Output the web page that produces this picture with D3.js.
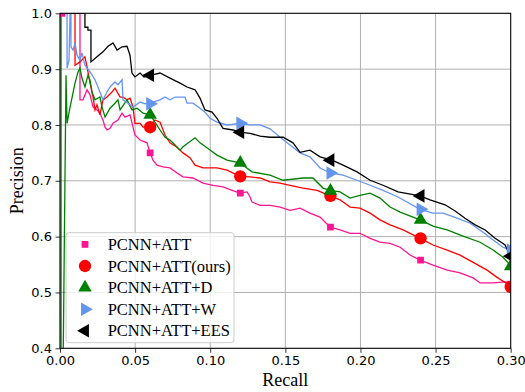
<!DOCTYPE html>
<html>
<head>
<meta charset="utf-8">
<script src="https://cdn.jsdelivr.net/npm/d3@7"></script>
<style>
  body { margin: 0; background: #fff; }
</style>
</head>
<body>
<div id="chart-container"></div>
<script>
// axis ticks
const recallTicks = [0, 0.05, 0.10, 0.15, 0.20, 0.25, 0.30];
const precisionTicks = [0.4, 0.5, 0.6, 0.7, 0.8, 0.9, 1.0];

// legend labels
const seriesNames = ['PCNN+ATT', 'PCNN+ATT(ours)', 'PCNN+ATT+D', 'PCNN+ATT+W', 'PCNN+ATT+EES'];

// [recall, precision]
const pcnnAtt = [[0,1.0],[0.0133,1.0],[0.0133,0.845],[0.0153,0.845],[0.018,0.863],[0.02,0.854],[0.022,0.832],[0.0246,0.827],[0.0266,0.821],[0.0286,0.809],[0.03,0.796],[0.0313,0.791],[0.0333,0.794],[0.0353,0.803],[0.0386,0.809],[0.0413,0.821],[0.0433,0.814],[0.0466,0.818],[0.0486,0.796],[0.0499,0.782],[0.0533,0.773],[0.0579,0.768],[0.06,0.75],[0.0619,0.737],[0.0646,0.728],[0.0686,0.725],[0.0732,0.723],[0.0779,0.714],[0.0819,0.707],[0.0885,0.705],[0.0952,0.696],[0.1019,0.692],[0.1085,0.689],[0.1145,0.683],[0.1198,0.678],[0.1245,0.68],[0.1265,0.671],[0.1278,0.662],[0.1332,0.656],[0.1398,0.656],[0.1465,0.653],[0.1531,0.647],[0.1598,0.651],[0.1664,0.642],[0.1731,0.635],[0.1798,0.617],[0.1864,0.612],[0.1931,0.606],[0.1997,0.606],[0.2064,0.597],[0.213,0.59],[0.2197,0.588],[0.2264,0.581],[0.233,0.567],[0.2397,0.558],[0.2483,0.549],[0.2577,0.54],[0.2663,0.535],[0.275,0.526],[0.2796,0.517],[0.2883,0.517],[0.2963,0.519],[0.2996,0.517]];

const pcnnAttOurs = [[0,1.0],[0.01,1.0],[0.01,0.907],[0.0133,0.913],[0.0166,0.922],[0.018,0.904],[0.02,0.875],[0.022,0.85],[0.0233,0.827],[0.0246,0.836],[0.0266,0.818],[0.0286,0.845],[0.0313,0.85],[0.0346,0.859],[0.0366,0.866],[0.04,0.85],[0.0419,0.85],[0.0446,0.845],[0.0466,0.848],[0.0486,0.832],[0.0499,0.803],[0.0533,0.803],[0.0553,0.796],[0.06,0.796],[0.0632,0.809],[0.0666,0.805],[0.0699,0.782],[0.0732,0.768],[0.0779,0.76],[0.0819,0.75],[0.0866,0.741],[0.0899,0.728],[0.0952,0.723],[0.1045,0.723],[0.1112,0.719],[0.1198,0.708],[0.1265,0.707],[0.1332,0.705],[0.1398,0.698],[0.1465,0.696],[0.1531,0.692],[0.1618,0.687],[0.1711,0.683],[0.1798,0.673],[0.1864,0.666],[0.1931,0.653],[0.1997,0.651],[0.2064,0.642],[0.213,0.63],[0.2197,0.621],[0.2284,0.612],[0.2397,0.597],[0.2483,0.585],[0.2577,0.576],[0.2663,0.567],[0.275,0.554],[0.2843,0.54],[0.2909,0.527],[0.2963,0.518],[0.2996,0.511]];

const pcnnAttD = [[0,1.0],[0.0007,1.0],[0.0007,0.0],[0.004,0.889],[0.0047,0.803],[0.0067,0.832],[0.01,0.875],[0.012,0.895],[0.0133,0.902],[0.0146,0.884],[0.0166,0.868],[0.0186,0.889],[0.02,0.88],[0.0213,0.859],[0.0233,0.845],[0.0266,0.85],[0.028,0.832],[0.03,0.814],[0.0333,0.83],[0.0366,0.839],[0.0386,0.845],[0.04,0.827],[0.0446,0.845],[0.0479,0.827],[0.0513,0.83],[0.0553,0.821],[0.06,0.818],[0.0666,0.791],[0.0699,0.778],[0.0732,0.773],[0.0766,0.764],[0.0799,0.755],[0.0819,0.761],[0.0899,0.777],[0.0932,0.768],[0.0999,0.755],[0.1045,0.746],[0.1112,0.737],[0.1198,0.732],[0.1278,0.716],[0.1398,0.71],[0.1485,0.701],[0.1618,0.705],[0.1684,0.705],[0.1751,0.687],[0.1798,0.683],[0.1864,0.68],[0.1931,0.669],[0.1997,0.674],[0.2064,0.678],[0.213,0.669],[0.2197,0.653],[0.2264,0.644],[0.2397,0.63],[0.2483,0.619],[0.2577,0.612],[0.2683,0.601],[0.2796,0.59],[0.2883,0.576],[0.2949,0.563],[0.2983,0.553],[0.2996,0.547]];

const pcnnAttW = [[0,1.0],[0.0047,1.0],[0.0047,0.902],[0.006,0.916],[0.0067,1.0],[0.0073,1.0],[0.0073,0.94],[0.0087,0.934],[0.01,0.947],[0.0113,0.925],[0.0133,0.916],[0.0146,0.929],[0.0166,0.907],[0.02,0.895],[0.0233,0.881],[0.0266,0.859],[0.0286,0.845],[0.0313,0.859],[0.0333,0.868],[0.0366,0.877],[0.0386,0.872],[0.0413,0.881],[0.0419,0.845],[0.0453,0.839],[0.0486,0.832],[0.0533,0.841],[0.0566,0.838],[0.06,0.839],[0.0666,0.845],[0.0699,0.85],[0.0732,0.845],[0.0766,0.85],[0.0832,0.85],[0.0846,0.839],[0.0885,0.839],[0.0932,0.83],[0.0965,0.823],[0.0999,0.812],[0.1045,0.805],[0.1112,0.8],[0.1198,0.803],[0.1265,0.8],[0.1332,0.8],[0.1398,0.793],[0.1465,0.778],[0.1531,0.764],[0.1598,0.75],[0.1664,0.743],[0.1731,0.723],[0.1798,0.714],[0.1884,0.71],[0.1977,0.701],[0.2064,0.692],[0.215,0.683],[0.225,0.671],[0.2397,0.649],[0.2483,0.642],[0.255,0.642],[0.2643,0.633],[0.273,0.624],[0.2816,0.608],[0.2883,0.594],[0.2949,0.581],[0.2996,0.576]];

const pcnnAttEES = [[0,1.0],[0.0166,1.0],[0.0166,0.975],[0.0186,0.975],[0.0186,0.97],[0.0206,0.97],[0.0206,0.913],[0.0246,0.922],[0.0286,0.931],[0.032,0.941],[0.0353,0.947],[0.038,0.934],[0.0413,0.94],[0.0446,0.941],[0.0466,0.925],[0.0479,0.893],[0.0499,0.886],[0.0533,0.893],[0.0559,0.886],[0.06,0.889],[0.0666,0.893],[0.0732,0.884],[0.0799,0.875],[0.0846,0.868],[0.0899,0.863],[0.0932,0.848],[0.0965,0.827],[0.1012,0.823],[0.1045,0.812],[0.1085,0.794],[0.1152,0.791],[0.1198,0.787],[0.1265,0.785],[0.1332,0.78],[0.1398,0.778],[0.1485,0.778],[0.1551,0.768],[0.1598,0.751],[0.1664,0.755],[0.1731,0.743],[0.1811,0.737],[0.1884,0.728],[0.1977,0.716],[0.2064,0.701],[0.215,0.692],[0.225,0.68],[0.2397,0.673],[0.2463,0.666],[0.2563,0.657],[0.263,0.646],[0.2696,0.633],[0.2763,0.621],[0.283,0.612],[0.2896,0.597],[0.2963,0.585],[0.2996,0.565]];

// marker points on each curve
const pcnnAttMarks = [[0.0013,1.0],[0.06,0.75],[0.12,0.678],[0.18,0.617],[0.24,0.558],[0.30,0.515]];
const pcnnAttOursMarks = [[0.06,0.796],[0.12,0.708],[0.18,0.673],[0.24,0.597],[0.30,0.51]];
const pcnnAttDMarks = [[0.06,0.818],[0.12,0.732],[0.18,0.682],[0.24,0.63],[0.30,0.547]];
const pcnnAttWMarks = [[0.06,0.838],[0.12,0.803],[0.18,0.714],[0.24,0.649],[0.30,0.576]];
const pcnnAttEESMarks = [[0.06,0.889],[0.12,0.787],[0.18,0.737],[0.24,0.673],[0.30,0.565]];

const series = [
  { name: seriesNames[0], data: pcnnAtt, marks: pcnnAttMarks, color: '#ff1493', symbol: d3.symbolSquare, size: 46, rot: 0 },
  { name: seriesNames[1], data: pcnnAttOurs, marks: pcnnAttOursMarks, color: '#ff0000', symbol: d3.symbolCircle, size: 120, rot: 0 },
  { name: seriesNames[2], data: pcnnAttD, marks: pcnnAttDMarks, color: '#008000', symbol: d3.symbolTriangle, size: 80, rot: 0 },
  { name: seriesNames[3], data: pcnnAttW, marks: pcnnAttWMarks, color: '#6495ed', symbol: d3.symbolTriangle, size: 80, rot: 90 },
  { name: seriesNames[4], data: pcnnAttEES, marks: pcnnAttEESMarks, color: '#000000', symbol: d3.symbolTriangle, size: 80, rot: -90 }
];

const margin = { top: 13.3, right: 14.3, bottom: 43.7, left: 60 };
const width = 525 - margin.left - margin.right;
const height = 392 - margin.top - margin.bottom;

const x = d3.scaleLinear().domain([0, 0.3]).range([0, width]);
const y = d3.scaleLinear().domain([0.4, 1.0]).range([height, 0]);

const svg = d3
  .select('#chart-container')
  .append('svg')
  .attr('width', 525)
  .attr('height', 392)
  .append('g')
  .attr('transform', `translate(${margin.left}, ${margin.top})`);

svg.append('defs').append('clipPath').attr('id', 'plot-clip')
  .append('rect').attr('width', width).attr('height', height);

// grid
svg.append('g')
  .selectAll('line')
  .data(recallTicks)
  .join('line')
  .attr('x1', (d) => x(d)).attr('x2', (d) => x(d))
  .attr('y1', 0).attr('y2', height)
  .attr('stroke', '#b0b0b0').attr('stroke-width', 1);

svg.append('g')
  .selectAll('line')
  .data(precisionTicks)
  .join('line')
  .attr('x1', 0).attr('x2', width)
  .attr('y1', (d) => y(d)).attr('y2', (d) => y(d))
  .attr('stroke', '#b0b0b0').attr('stroke-width', 1);

// curves
const line = d3.line().x((d) => x(d[0])).y((d) => y(d[1]));
const plot = svg.append('g').attr('clip-path', 'url(#plot-clip)');

series.forEach((s) => {
  plot.append('path')
    .datum(s.data)
    .attr('fill', 'none')
    .attr('stroke', s.color)
    .attr('stroke-width', 1.3)
    .attr('d', line);
});

series.forEach((s) => {
  plot.selectAll(null)
    .data(s.marks)
    .join('path')
    .attr('d', d3.symbol(s.symbol, s.size))
    .attr('fill', s.color)
    .attr('transform', (d) => `translate(${x(d[0])},${y(d[1])}) rotate(${s.rot})`);
});

// axes
const xAxis = svg.append('g')
  .attr('transform', `translate(0,${height})`)
  .call(d3.axisBottom(x).tickValues(recallTicks).tickFormat(d3.format('.2f')).tickSize(4.5).tickPadding(3));
const yAxis = svg.append('g')
  .call(d3.axisLeft(y).tickValues(precisionTicks).tickFormat(d3.format('.1f')).tickSize(4.5).tickPadding(3.5));

[xAxis, yAxis].forEach((a) => {
  a.selectAll('text').style('font-family', 'DejaVu Sans').style('font-size', '13px').attr('fill', '#000');
  a.selectAll('.tick line').attr('stroke', '#000').attr('stroke-width', 0.8);
  a.select('.domain').remove();
});

// frame
svg.append('rect')
  .attr('width', width).attr('height', height)
  .attr('fill', 'none').attr('stroke', '#000').attr('stroke-width', 1);

// axis labels
svg.append('text')
  .attr('x', width / 2).attr('y', height + 38)
  .attr('text-anchor', 'middle')
  .style('font-family', 'Liberation Serif').style('font-size', '18px')
  .text('Recall');

svg.append('text')
  .attr('transform', 'rotate(-90)')
  .attr('x', -height / 2).attr('y', -37)
  .attr('text-anchor', 'middle')
  .style('font-family', 'Liberation Serif').style('font-size', '18px')
  .text('Precision');

// legend
const legend = svg.append('g').attr('transform', `translate(${66 - margin.left},${232.7 - margin.top})`);
legend.append('rect')
  .attr('width', 168).attr('height', 110).attr('rx', 3)
  .attr('fill', '#fff').attr('fill-opacity', 0.8)
  .attr('stroke', '#cccccc').attr('stroke-width', 1);

series.forEach((s, i) => {
  const row = legend.append('g').attr('transform', `translate(0,${11.7 + i * 21.6})`);
  row.append('path')
    .attr('d', d3.symbol(s.symbol, s.size))
    .attr('fill', s.color)
    .attr('transform', `translate(19,0) rotate(${s.rot})`);
  row.append('text')
    .attr('x', 41.7).attr('y', 5.6)
    .style('font-family', 'Liberation Serif').style('font-size', '16.5px')
    .text(s.name);
});
</script>
</body>
</html>
